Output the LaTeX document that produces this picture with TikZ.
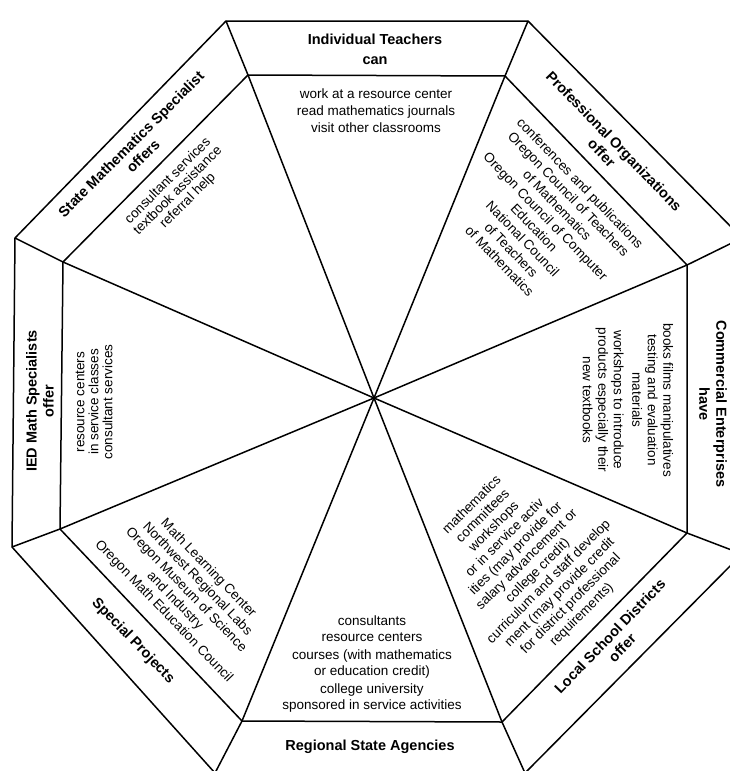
\documentclass[tikz,border=0pt]{standalone}
\usepackage{fontspec}
\setmainfont{Liberation Sans}
\usetikzlibrary{positioning,calc}

\tikzset{
  rim/.style={line width=1.5pt, line join=round},
  head/.style={font=\bfseries\fontsize{14.5}{17}\selectfont, align=center, inner sep=0pt},
  item/.style={font=\fontsize{13.5}{15.5}\selectfont, align=center, inner sep=0pt}
}

\begin{document}
\begin{tikzpicture}[x=1pt,y=-1pt]
    \useasboundingbox (0,0) rectangle (730,771);
    \clip (0,0) rectangle (730,771);

    % Corners
    \coordinate (c) at (374,398);
    \foreach \n/\x/\y in {1/248/75, 2/505/76, 3/687/265, 4/687/533,
                          5/502/722, 6/242/721, 7/60/529, 8/63/262}
      \coordinate (i\n) at (\x,\y);
    \foreach \n/\x/\y in {1/226/21, 2/528/21, 3/742/238, 4/742/554,
                          5/525/773, 6/215/773, 7/12/547, 8/15/238}
      \coordinate (o\n) at (\x,\y);

    % Rims
    \draw[rim] (o1) -- (o2) -- (o3) -- (o4) -- (o5) -- (o6) -- (o7) -- (o8) -- cycle;
    \draw[rim] (i1) -- (i2) -- (i3) -- (i4) -- (i5) -- (i6) -- (i7) -- (i8) -- cycle;

    % Spokes
    \foreach \n in {1, ..., 8} {
      \draw[rim] (o\n) -- (i\n);
      \draw[rim] (c) -- (i\n);
    }

    % Individual teachers
    \node[head] (teach) at (375,49) {Individual Teachers\\[3pt]can};
    \node[item, font=\fontsize{13.5}{17}\selectfont] (teachlist) at (376,111)
      {work at a resource center\\read mathematics journals\\visit other classrooms};

    % Professional organizations
    \node[head, rotate=-46] (prof) at (608,147) {Professional Organizations\\offer};
    \node[item, rotate=-46, font=\fontsize{13.5}{16}\selectfont] (proflist) at (540,222)
      {conferences and publications\\Oregon Council of Teachers\\of Mathematics\\
       Oregon Council of Computer\\Education\\National Council\\of Teachers\\of Mathematics};

    % Commercial enterprises
    \node[head, rotate=-90] (comm) at (713,404) {Commercial Enterprises\\have};
    \node[item, rotate=-90] (commlist) at (628,400)
      {books films manipulatives\\testing and evaluation\\materials\\[3pt]
       workshops to introduce\\products especially their\\new textbooks};

    % Local school districts
    \node[head, rotate=46] (local) at (616,642) {Local School Districts\\offer};
    \node[item, rotate=45] (locallist) at (527,560)
      {mathematics\\committees\\workshops\\or in service activ\\ities (may provide for\\
       salary advancement or\\college credit)\\curriculum and staff develop\\
       ment (may provide credit\\for district professional\\requirements)};

    % Regional state agencies
    \node[head] (region) at (370,747) {Regional State Agencies};
    \node[item] (regionlist) at (372,664)
      {consultants\\resource centers\\[3pt]courses (with mathematics\\
       or education credit)\\[3pt]college university\\sponsored in service activities};

    % Special projects
    \node[head, rotate=-46] (special) at (133,641) {Special Projects};
    \node[item, rotate=-46] (speciallist) at (186,590)
      {Math Learning Center\\Northwest Regional Labs\\Oregon Museum of Science\\
       and Industry\\Oregon Math Education Council};

    % IED math specialists
    \node[head, rotate=90] (ied) at (40,401) {IED Math Specialists\\offer};
    \node[item, rotate=90, font=\fontsize{13.5}{14}\selectfont] (iedlist) at (94,402)
      {resource centers\\in service classes\\consultant services};

    % State mathematics specialist
    \node[head, rotate=45] (state) at (137,150) {State Mathematics Specialist\\offers};
    \node[item, rotate=45, font=\fontsize{13.5}{14}\selectfont] (statelist) at (178,191)
      {consultant services\\textbook assistance\\referral help};
  \end{tikzpicture}
\end{document}
